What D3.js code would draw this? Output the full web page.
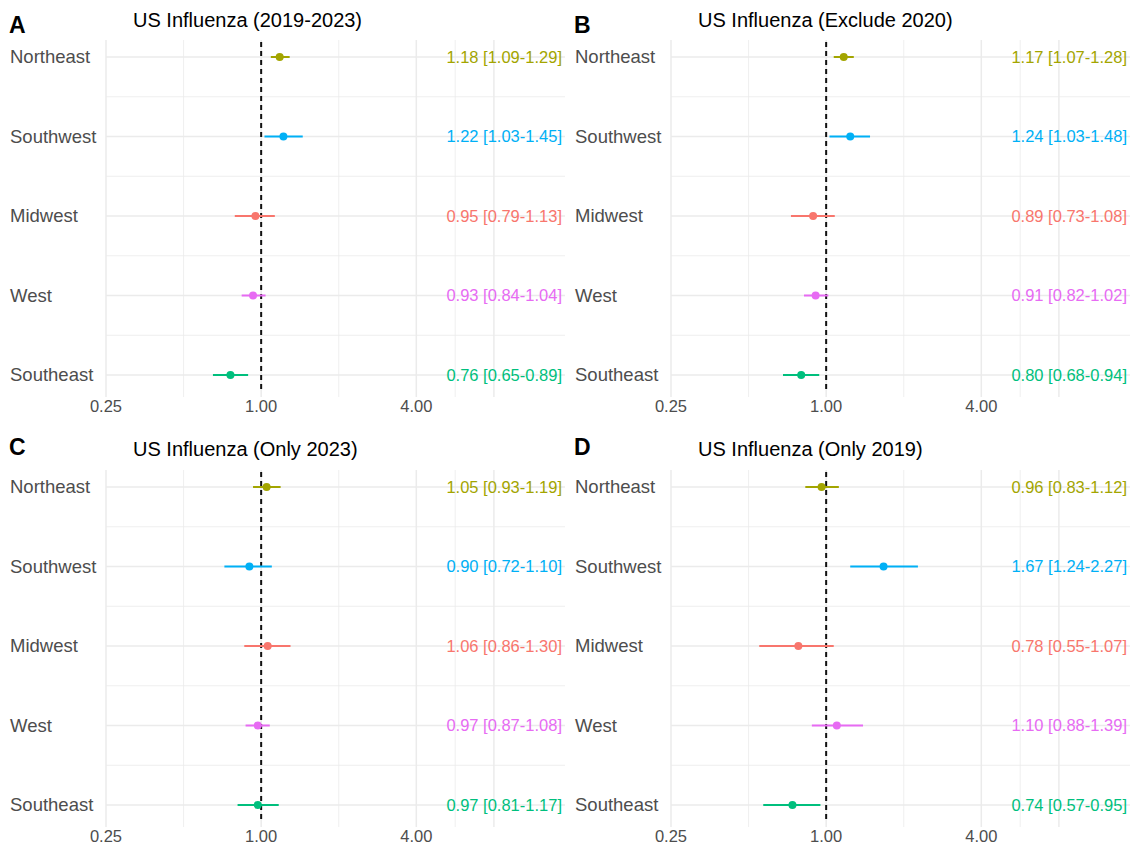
<!DOCTYPE html>
<html>
<head>
<meta charset="utf-8">
<script src="https://cdn.jsdelivr.net/npm/d3@7"></script>
<style>
  body { margin: 0; background: #fff; }
  text { font-family: "Liberation Sans", Arial, sans-serif; }
</style>
</head>
<body>
<div id="chart"></div>
<script>
// Regions, top to bottom, and their ggplot hue colours
const regions = ["Northeast", "Southwest", "Midwest", "West", "Southeast"];
const regionColors = ["#A3A500", "#00B0F6", "#F8766D", "#E76BF3", "#00BF7D"];

const panelLetters = ["A", "B", "C", "D"];
const panelTitles = [
  "US Influenza (2019-2023)",
  "US Influenza (Exclude 2020)",
  "US Influenza (Only 2023)",
  "US Influenza (Only 2019)"
];

// Odds ratios and 95% CI, per panel, in region order
const orAll = [1.18, 1.22, 0.95, 0.93, 0.76];
const loAll = [1.09, 1.03, 0.79, 0.84, 0.65];
const hiAll = [1.29, 1.45, 1.13, 1.04, 0.89];

const orEx2020 = [1.17, 1.24, 0.89, 0.91, 0.80];
const loEx2020 = [1.07, 1.03, 0.73, 0.82, 0.68];
const hiEx2020 = [1.28, 1.48, 1.08, 1.02, 0.94];

const or2023 = [1.05, 0.90, 1.06, 0.97, 0.97];
const lo2023 = [0.93, 0.72, 0.86, 0.87, 0.81];
const hi2023 = [1.19, 1.10, 1.30, 1.08, 1.17];

const or2019 = [0.96, 1.67, 0.78, 1.10, 0.74];
const lo2019 = [0.83, 1.24, 0.55, 0.88, 0.57];
const hi2019 = [1.12, 2.27, 1.07, 1.39, 0.95];

const xTicks = [0.25, 1, 4];
const gridMajor = [0.25, 1, 4, 8];
const gridMinor = [0.5, 2, 5.66];
const xDomain = [0.25, 15.1];
const labelAt = 14.7;   // x value where the CI text ends

const panels = [
  { or: orAll, lo: loAll, hi: hiAll },
  { or: orEx2020, lo: loEx2020, hi: hiEx2020 },
  { or: or2023, lo: lo2023, hi: hi2023 },
  { or: or2019, lo: lo2019, hi: hi2019 }
];

const W = 1132, H = 845;
const svg = d3.select("#chart").append("svg").attr("width", W).attr("height", H);

const panelH = 430;
const plot = { left: 106, right: 565, top: 40, bottom: 397 };

const x = d3.scaleLog().base(2).domain(xDomain).range([plot.left, plot.right]);
const y = d3.scalePoint().domain(regions).range([57, 375]);
const step = y.step();
const color = d3.scaleOrdinal().domain(regions).range(regionColors);
const fmt = d3.format(".2f");

panels.forEach((p, i) => {
  const row = Math.floor(i / 2);
  const g = svg.append("g")
    .attr("transform", `translate(${(i % 2) * 565},${row * panelH})`);

  // grid: minor first, then major
  const midRows = regions.slice(0, -1).map(r => y(r) + step / 2);
  g.selectAll(".hminor").data(midRows).enter().append("line")
    .attr("x1", plot.left).attr("x2", plot.right)
    .attr("y1", d => d).attr("y2", d => d)
    .attr("stroke", "#ebebeb").attr("stroke-width", 0.8);
  g.selectAll(".vminor").data(gridMinor).enter().append("line")
    .attr("x1", d => x(d)).attr("x2", d => x(d))
    .attr("y1", plot.top).attr("y2", plot.bottom)
    .attr("stroke", "#ebebeb").attr("stroke-width", 0.8);
  g.selectAll(".hmajor").data(regions).enter().append("line")
    .attr("x1", plot.left).attr("x2", plot.right)
    .attr("y1", d => y(d)).attr("y2", d => y(d))
    .attr("stroke", "#ebebeb").attr("stroke-width", 1.5);
  g.selectAll(".vmajor").data(gridMajor).enter().append("line")
    .attr("x1", d => x(d)).attr("x2", d => x(d))
    .attr("y1", plot.top).attr("y2", plot.bottom)
    .attr("stroke", "#ebebeb").attr("stroke-width", 1.5);

  // reference line at OR = 1
  g.append("line")
    .attr("x1", x(1)).attr("x2", x(1))
    .attr("y1", plot.top + 2).attr("y2", plot.bottom - 4)
    .attr("stroke", "#111").attr("stroke-width", 2)
    .attr("stroke-dasharray", "5,4");

  const rows = regions.map((r, k) => ({ region: r, or: p.or[k], lo: p.lo[k], hi: p.hi[k] }));

  // error bars
  g.selectAll(".ci").data(rows).enter().append("line")
    .attr("x1", d => x(d.lo)).attr("x2", d => x(d.hi))
    .attr("y1", d => y(d.region)).attr("y2", d => y(d.region))
    .attr("stroke", d => color(d.region)).attr("stroke-width", 2);

  g.selectAll(".pt").data(rows).enter().append("circle")
    .attr("cx", d => x(d.or)).attr("cy", d => y(d.region))
    .attr("r", 4)
    .attr("fill", d => color(d.region));

  // CI labels
  g.selectAll(".lab").data(rows).enter().append("text")
    .attr("x", x(labelAt)).attr("y", d => y(d.region))
    .attr("dy", "0.35em")
    .attr("text-anchor", "end")
    .attr("font-size", 16.5)
    .attr("fill", d => color(d.region))
    .text(d => `${fmt(d.or)} [${fmt(d.lo)}-${fmt(d.hi)}]`);

  // y axis labels
  g.selectAll(".ylab").data(regions).enter().append("text")
    .attr("x", 10).attr("y", d => y(d))
    .attr("dy", "0.35em")
    .attr("font-size", 18.5)
    .attr("fill", "#4d4d4d")
    .text(d => d);

  // x axis labels
  g.selectAll(".xlab").data(xTicks).enter().append("text")
    .attr("x", d => x(d)).attr("y", plot.bottom + 15)
    .attr("text-anchor", "middle")
    .attr("font-size", 16.5)
    .attr("fill", "#4d4d4d")
    .text(d => fmt(d));

  // title and panel letter
  g.append("text")
    .attr("x", 133).attr("y", row === 0 ? 27 : 26)
    .attr("font-size", 20)
    .attr("fill", "#000")
    .text(panelTitles[i]);
  g.append("text")
    .attr("x", 9).attr("y", row === 0 ? 33 : 25)
    .attr("font-size", 23)
    .attr("font-weight", "bold")
    .attr("fill", "#000")
    .text(panelLetters[i]);
});
</script>
</body>
</html>
